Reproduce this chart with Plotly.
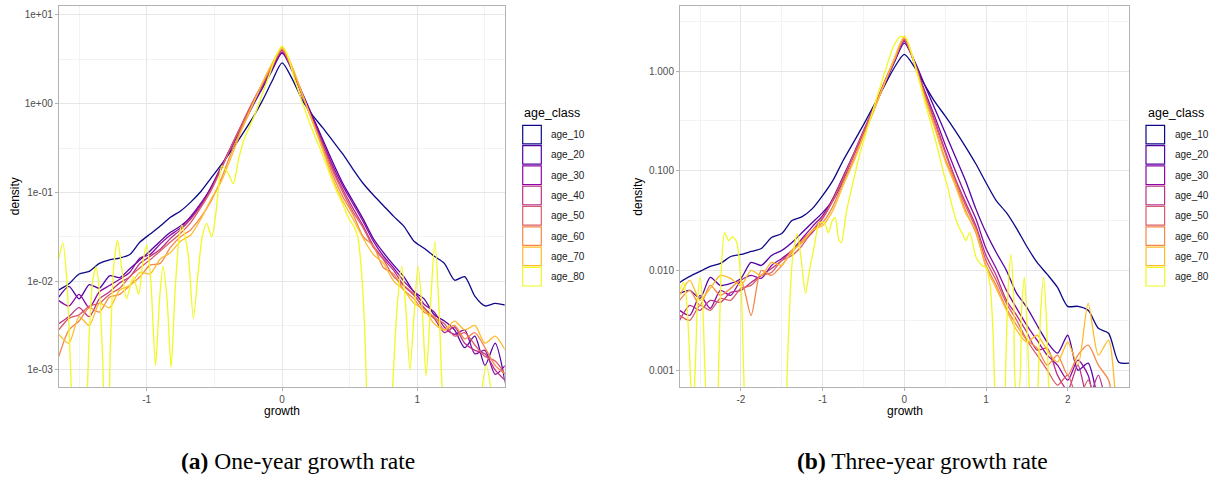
import plotly.graph_objects as go

W, H = 1214, 477

AGE_CLASSES = ["age_10", "age_20", "age_30", "age_40", "age_50", "age_60", "age_70", "age_80"]
COLORS = ["#0D0887", "#5402A3", "#8B0AA5", "#B93289", "#DB5C68", "#F48849", "#FEBC2A", "#F0F921"]

# ---------------- Panel (a): one-year growth rate (values are log10(density))
A_GROWTH = [-1.65, -1.575, -1.5, -1.425, -1.35, -1.275, -1.2, -1.125, -1.05, -0.975, -0.9, -0.825,
            -0.75, -0.675, -0.6, -0.525, -0.45, -0.375, -0.3, -0.225, -0.15, -0.075, 0.0,
            0.075, 0.15, 0.225, 0.3, 0.375, 0.45, 0.525, 0.6, 0.675, 0.75, 0.825, 0.9, 0.975,
            1.05, 1.125, 1.2, 1.275, 1.35, 1.425, 1.5, 1.575, 1.65]
a_age10 = [-2.10, -2.03, -1.92, -1.89, -1.80, -1.76, -1.74, -1.70, -1.56, -1.47, -1.38, -1.28, -1.21,
           -1.11, -0.99, -0.84, -0.69, -0.53, -0.36, -0.18, 0.02, 0.25, 0.46,
           0.28, 0.04, -0.13, -0.27, -0.42, -0.57, -0.74, -0.90, -1.03, -1.15, -1.27, -1.38, -1.55,
           -1.63, -1.72, -1.80, -1.99, -1.95, -2.17, -2.28, -2.25, -2.27]
a_age20 = [-2.18, -2.06, -2.20, -2.04, -2.08, -1.94, -1.96, -1.86, -1.76, -1.66, -1.55, -1.45, -1.38,
           -1.28, -1.14, -0.94, -0.72, -0.50, -0.28, -0.05, 0.16, 0.37, 0.57,
           0.38, 0.12, -0.14, -0.40, -0.66, -0.90, -1.10, -1.30, -1.52, -1.68, -1.82, -1.95, -2.12,
           -2.20, -2.38, -2.45, -2.55, -2.75, -2.62, -2.95, -2.70, -3.15]
a_age30 = [-2.22, -2.28, -2.15, -2.30, -2.12, -2.05, -1.98, -1.90, -1.74, -1.70, -1.58, -1.48, -1.40,
           -1.27, -1.12, -0.95, -0.71, -0.48, -0.25, -0.02, 0.19, 0.39, 0.585,
           0.37, 0.10, -0.16, -0.43, -0.70, -0.93, -1.13, -1.33, -1.55, -1.72, -1.85, -2.00, -2.12,
           -2.26, -2.35, -2.52, -2.60, -2.55, -2.82, -2.78, -3.05, -2.95]
a_age40 = [-2.48, -2.40, -2.30, -2.40, -2.20, -2.12, -2.02, -1.95, -1.80, -1.72, -1.64, -1.52, -1.42,
           -1.30, -1.15, -0.97, -0.73, -0.48, -0.24, -0.01, 0.20, 0.41, 0.60,
           0.38, 0.09, -0.18, -0.45, -0.73, -0.97, -1.18, -1.38, -1.60, -1.75, -1.88, -2.05, -2.16,
           -2.30, -2.42, -2.58, -2.52, -2.70, -2.78, -2.82, -3.00, -3.12]
a_age50 = [-2.55, -2.42, -2.38, -2.28, -2.25, -2.15, -2.08, -1.95, -1.85, -1.76, -1.66, -1.56, -1.46,
           -1.34, -1.17, -0.98, -0.74, -0.48, -0.24, 0.0, 0.21, 0.42, 0.61,
           0.39, 0.09, -0.19, -0.47, -0.76, -1.00, -1.22, -1.40, -1.62, -1.76, -1.95, -2.05, -2.15,
           -2.32, -2.42, -2.48, -2.62, -2.58, -2.72, -2.85, -2.90, -3.05]
a_age60 = [-2.85, -2.55, -2.45, -2.30, -2.35, -2.18, -2.15, -2.05, -1.95, -1.82, -1.80, -1.62, -1.50,
           -1.42, -1.28, -1.10, -0.85, -0.55, -0.28, -0.03, 0.21, 0.43, 0.617,
           0.40, 0.10, -0.20, -0.50, -0.80, -1.05, -1.25, -1.50, -1.60, -1.85, -1.92, -2.10, -2.20,
           -2.35, -2.40, -2.55, -2.50, -2.65, -2.58, -2.75, -2.95, -3.05]
a_age70 = [-2.60, -2.70, -2.40, -2.50, -2.25, -2.30, -2.10, -2.05, -1.90, -1.92, -1.75, -1.68, -1.55,
           -1.48, -1.30, -1.08, -0.88, -0.60, -0.30, -0.04, 0.22, 0.45, 0.633,
           0.42, 0.11, -0.20, -0.52, -0.85, -1.10, -1.30, -1.52, -1.70, -1.80, -2.00, -2.10, -2.25,
           -2.32, -2.48, -2.55, -2.45, -2.55, -2.50, -2.70, -2.62, -2.78]
A_GROWTH_80 = [-1.65, -1.62, -1.59, -1.565, -1.545, -1.50, -1.45, -1.425, -1.40, -1.375, -1.35, -1.325,
               -1.305, -1.29, -1.27, -1.245, -1.216, -1.185, -1.15, -1.10, -1.06, -1.03, -1.0, -0.97,
               -0.935, -0.905, -0.88, -0.85, -0.82, -0.79, -0.76, -0.74, -0.71, -0.69, -0.655, -0.62,
               -0.59, -0.557, -0.52, -0.49, -0.465, -0.445, -0.40, -0.36, -0.32, -0.28, -0.2, -0.1,
               -0.04, 0.0, 0.04, 0.1, 0.2, 0.3, 0.39, 0.445, 0.495, 0.53, 0.56, 0.585, 0.61, 0.635,
               0.70, 0.78, 0.81, 0.85, 0.885, 0.915, 0.945, 0.975, 1.005, 1.035, 1.065, 1.10, 1.13,
               1.16, 1.19, 1.25, 1.40, 1.46, 1.51, 1.56, 1.61, 1.65]
a_age80 = [-1.75, -1.57, -2.0, -2.9, -3.6, -4.2, -3.6, -2.6, -2.0, -1.84, -2.1, -2.9,
           -3.6, -3.6, -2.8, -1.85, -1.54, -1.85, -2.2, -1.95, -2.15, -1.8, -1.59, -2.0,
           -2.95, -2.2, -1.83, -2.2, -2.97, -2.1, -1.5, -1.37, -1.55, -1.75, -2.42, -1.9,
           -1.5, -1.35, -1.5, -1.25, -0.88, -0.70, -0.78, -0.90, -0.62, -0.40, -0.12, 0.30,
           0.55, 0.648, 0.55, 0.24, -0.20, -0.58, -0.94, -1.12, -1.30, -1.38, -1.50, -1.85, -2.5, -3.5,
           -4.2, -4.0, -3.4, -2.3, -1.83, -2.3, -3.0, -2.4, -1.83, -2.3, -3.07, -2.2, -1.55,
           -2.3, -3.4, -4.2, -4.2, -3.4, -2.95, -3.4, -4.2, -4.2]

# ---------------- Panel (b): three-year growth rate (log10(density))
B_GROWTH = [-2.75, -2.625, -2.5, -2.375, -2.25, -2.125, -2.0, -1.875, -1.75, -1.625, -1.5, -1.375,
            -1.25, -1.125, -1.0, -0.875, -0.75, -0.625, -0.5, -0.375, -0.25, -0.125, 0.0,
            0.125, 0.25, 0.375, 0.5, 0.625, 0.75, 0.875, 1.0, 1.125, 1.25, 1.375, 1.5, 1.625,
            1.75, 1.875, 2.0, 2.125, 2.25, 2.375, 2.5, 2.625, 2.75]
b_age10 = [-2.12, -2.06, -2.01, -1.96, -1.93, -1.86, -1.84, -1.81, -1.78, -1.67, -1.63, -1.50, -1.46,
           -1.38, -1.25, -1.10, -0.90, -0.72, -0.54, -0.35, -0.16, 0.03, 0.167,
           0.04, -0.14, -0.31, -0.45, -0.60, -0.76, -0.93, -1.12, -1.30, -1.42, -1.58, -1.76, -1.92,
           -2.04, -2.17, -2.36, -2.36, -2.40, -2.58, -2.63, -2.92, -2.93]
b_age20 = [-2.23, -2.20, -2.28, -2.07, -2.15, -2.13, -2.08, -1.92, -1.95, -1.85, -1.80, -1.72, -1.62,
           -1.52, -1.42, -1.30, -1.10, -0.85, -0.62, -0.38, -0.15, 0.08, 0.28,
           0.10, -0.14, -0.38, -0.62, -0.86, -1.10, -1.38, -1.62, -1.82, -2.00, -2.23, -2.37, -2.55,
           -2.72, -2.83, -2.65, -3.0, -2.93, -3.3, -3.5, -3.6, -3.7]
b_age30 = [-2.40, -2.45, -2.25, -2.38, -2.20, -2.25, -2.10, -2.05, -2.08, -1.95, -1.88, -1.80, -1.68,
           -1.56, -1.45, -1.28, -1.06, -0.84, -0.60, -0.37, -0.13, 0.10, 0.30,
           0.08, -0.20, -0.46, -0.74, -1.00, -1.25, -1.48, -1.78, -1.98, -2.20, -2.38, -2.55, -2.70,
           -2.85, -2.95, -3.1, -2.9, -3.05, -3.5, -3.6, -3.7, -3.7]
b_age40 = [-2.50, -2.35, -2.40, -2.30, -2.32, -2.22, -2.20, -2.12, -2.05, -1.98, -1.90, -1.80, -1.72,
           -1.62, -1.48, -1.30, -1.08, -0.86, -0.62, -0.38, -0.14, 0.10, 0.31,
           0.08, -0.22, -0.50, -0.80, -1.08, -1.32, -1.55, -1.85, -2.05, -2.30, -2.45, -2.62, -2.80,
           -2.78, -3.05, -3.2, -2.95, -3.3, -3.05, -3.4, -3.5, -3.6]
b_age50 = [-2.45, -2.50, -2.35, -2.40, -2.28, -2.30, -2.18, -2.15, -2.05, -2.02, -1.90, -1.85, -1.75,
           -1.60, -1.47, -1.30, -1.08, -0.85, -0.61, -0.37, -0.12, 0.11, 0.32,
           0.08, -0.23, -0.52, -0.82, -1.10, -1.35, -1.58, -1.90, -2.10, -2.33, -2.50, -2.70, -2.85,
           -3.0, -3.15, -3.05, -3.3, -3.1, -3.4, -3.5, -3.6, -3.7]
b_age60 = [-2.30, -2.20, -2.35, -2.15, -2.25, -2.18, -2.10, -2.45, -2.00, -2.05, -1.95, -1.82, -1.70,
           -1.60, -1.52, -1.36, -1.12, -0.90, -0.65, -0.40, -0.14, 0.10, 0.33,
           0.07, -0.26, -0.56, -0.88, -1.12, -1.40, -1.62, -1.95, -2.15, -2.38, -2.55, -2.70, -2.78,
           -2.95, -2.85, -3.05, -2.85, -2.75, -2.95, -3.10, -3.6, -3.7]
b_age70 = [-2.25, -2.10, -2.30, -2.18, -2.05, -2.08, -2.15, -2.00, -2.05, -1.92, -1.95, -1.80, -1.72,
           -1.60, -1.55, -1.40, -1.15, -0.92, -0.66, -0.40, -0.14, 0.12, 0.35,
           0.08, -0.27, -0.58, -0.90, -1.15, -1.42, -1.60, -1.97, -2.18, -2.40, -2.60, -2.72, -2.65,
           -2.80, -2.92, -2.72, -2.95, -2.33, -2.85, -2.70, -3.5, -3.7]
B_GROWTH_80 = [-2.75, -2.70, -2.66, -2.62, -2.59, -2.555, -2.53, -2.50, -2.47, -2.44, -2.41, -2.36,
               -2.30, -2.27, -2.24, -2.20, -2.15, -2.10, -2.05, -2.00, -1.97, -1.94, -1.88, -1.55,
               -1.46, -1.42, -1.37, -1.31, -1.26, -1.21, -1.16, -1.10, -1.04, -0.98, -0.93, -0.88,
               -0.845, -0.80, -0.77, -0.71, -0.62, -0.54, -0.416, -0.253, -0.13, -0.05, 0.02, 0.155,
               0.277, 0.40, 0.48, 0.52, 0.60, 0.66, 0.71, 0.755, 0.80, 0.88, 0.95, 1.0, 1.05, 1.085,
               1.11, 1.14, 1.20, 1.24, 1.27, 1.306, 1.34, 1.37, 1.40, 1.435, 1.47, 1.50, 1.535, 1.58,
               1.63, 1.67, 1.706, 1.74, 1.775, 1.82, 2.75]
b_age80 = [-2.2, -2.12, -2.35, -3.0, -3.5, -2.9, -2.3, -2.07, -2.3, -3.0, -3.6, -4.2,
           -3.8, -2.9, -2.0, -1.62, -1.70, -1.66, -1.72, -2.1, -2.9, -3.6, -4.2, -4.2,
           -3.6, -2.7, -1.9, -1.63, -1.9, -2.23, -2.0, -1.75, -1.52, -1.52, -1.62, -1.50,
           -1.47, -1.70, -1.72, -1.42, -1.09, -0.82, -0.48, -0.05, 0.25, 0.345, 0.33, -0.02,
           -0.385, -0.75, -1.02, -1.13, -1.40, -1.55, -1.63, -1.70, -1.62, -1.87, -1.95, -1.97, -2.15, -2.6,
           -3.3, -4.0, -4.0, -3.0, -2.2, -1.84, -2.3, -3.2, -3.2, -2.4, -2.07, -2.5, -3.3, -4.0,
           -3.3, -2.4, -2.07, -2.5, -3.4, -4.2, -4.2]

A_SERIES = [(A_GROWTH, a_age10), (A_GROWTH, a_age20), (A_GROWTH, a_age30), (A_GROWTH, a_age40),
            (A_GROWTH, a_age50), (A_GROWTH, a_age60), (A_GROWTH, a_age70), (A_GROWTH_80, a_age80)]
B_SERIES = [(B_GROWTH, b_age10), (B_GROWTH, b_age20), (B_GROWTH, b_age30), (B_GROWTH, b_age40),
            (B_GROWTH, b_age50), (B_GROWTH, b_age60), (B_GROWTH, b_age70), (B_GROWTH_80, b_age80)]

A_YTICKS = [1e-3, 1e-2, 1e-1, 1, 10]
A_YTICKTEXT = ["1e-03", "1e-02", "1e-01", "1e+00", "1e+01"]
B_YTICKS = [1e-3, 1e-2, 1e-1, 1]
B_YTICKTEXT = ["0.001", "0.010", "0.100", "1.000"]
A_XTICKS = [-1, 0, 1]
B_XTICKS = [-2, -1, 0, 1, 2]

MAJOR = "#E6E6E6"
MINOR = "#F3F3F3"
BORDER = "#B3B3B3"
SANS = "Liberation Sans, Arial, sans-serif"
SERIF = "Liberation Serif, Times New Roman, serif"

fig = go.Figure()
for panel, (series, xa, ya) in enumerate([(A_SERIES, "x", "y"), (B_SERIES, "x2", "y2")]):
    for (gx, logd), name, col in zip(series, AGE_CLASSES, COLORS):
        fig.add_trace(go.Scatter(
            x=gx, y=[10 ** v for v in logd], mode="lines", name=name,
            line=dict(color=col, width=1.3, shape="spline", smoothing=0.7),
            xaxis=xa, yaxis=ya, showlegend=False))


def px_x(p):
    return p / W


def px_y(p):
    return 1 - p / H


def axis_common():
    return dict(showgrid=True, gridcolor=MAJOR, gridwidth=1, zeroline=False,
                showline=True, mirror=True, linecolor=BORDER, linewidth=1,
                ticks="outside", ticklen=3, tickcolor=BORDER, tickwidth=1,
                tickfont=dict(family=SANS, size=10, color="#4D4D4D"))


minor_a_x = dict(tickvals=[-1.5, -0.5, 0.5, 1.5], showgrid=True, gridcolor=MINOR, gridwidth=1, ticks="")
minor_b_x = dict(tickvals=[-2.5, -1.5, -0.5, 0.5, 1.5, 2.5], showgrid=True, gridcolor=MINOR, gridwidth=1, ticks="")
minor_y = dict(tickvals=[10 ** -2.5, 10 ** -1.5, 10 ** -0.5, 10 ** 0.5], showgrid=True,
               gridcolor=MINOR, gridwidth=1, ticks="")

ydom = [px_y(387.3), px_y(6)]
fig.update_layout(
    width=W, height=H, autosize=False,
    margin=dict(l=0, r=0, t=0, b=0),
    paper_bgcolor="white", plot_bgcolor="white",
    showlegend=False,
    xaxis=dict(domain=[px_x(58.8), px_x(504.6)], range=[-1.65, 1.645], tickmode="array",
               tickvals=A_XTICKS, ticktext=[str(v) for v in A_XTICKS], minor=minor_a_x,
               anchor="y", **axis_common()),
    yaxis=dict(domain=ydom, type="log", range=[-3.197, 1.101], tickmode="array",
               tickvals=A_YTICKS, ticktext=A_YTICKTEXT, minor=minor_y, anchor="x", **axis_common()),
    xaxis2=dict(domain=[px_x(680), px_x(1129)], range=[-2.745, 2.75], tickmode="array",
                tickvals=B_XTICKS, ticktext=[str(v) for v in B_XTICKS], minor=minor_b_x,
                anchor="y2", **axis_common()),
    yaxis2=dict(domain=ydom, type="log", range=[-3.172, 0.652], tickmode="array",
                tickvals=B_YTICKS, ticktext=B_YTICKTEXT, minor=minor_y, anchor="x2", **axis_common()),
)

annotations = []
shapes = []


def text(x, y, s, size, color="#000000", family=SANS, xanchor="center", angle=0):
    annotations.append(dict(x=px_x(x), y=px_y(y), xref="paper", yref="paper", text=s,
                            showarrow=False, xanchor=xanchor, yanchor="middle", textangle=angle,
                            font=dict(family=family, size=size, color=color)))


# axis titles
text(281.7, 410.5, "growth", 12)
text(904.5, 410.5, "growth", 12)
text(14.5, 196.7, "density", 12, angle=-90)
text(638, 196.7, "density", 12, angle=-90)

# legends (ggplot-style outlined keys)
for box_left, label_left in [(522.7, 549.0), (1146.0, 1172.7)]:
    text(box_left - 0.5, 113, "age_class", 12.5, xanchor="left")
    for i, (name, col) in enumerate(zip(AGE_CLASSES, COLORS)):
        top = 125.3 + 20.3 * i
        shapes.append(dict(type="rect", xref="paper", yref="paper",
                           x0=px_x(box_left), x1=px_x(box_left + 18.6),
                           y0=px_y(top + 18.6), y1=px_y(top),
                           line=dict(color=col, width=1.2), fillcolor="white"))
        text(label_left, top + 9.3, name, 10, color="#1A1A1A", xanchor="left")

# captions
text(297.5, 461, "<b>(a)</b> One-year growth rate", 23.5, family=SERIF)
text(922.5, 461, "<b>(b)</b> Three-year growth rate", 23.5, family=SERIF)

fig.update_layout(annotations=annotations, shapes=shapes)
fig.write_html("out.html", config={"displayModeBar": False},
               post_script="document.body.style.margin='0';document.body.style.overflow='hidden';")
